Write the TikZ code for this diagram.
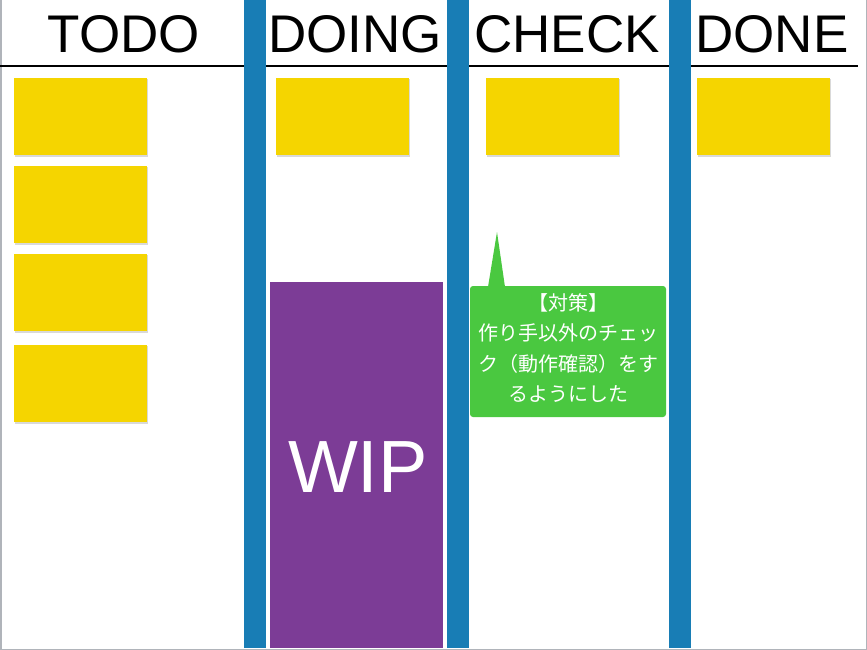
\documentclass[tikz,border=0pt]{standalone}
\usepackage{fontspec}
\newfontfamily\hd{Liberation Sans}
\newfontfamily\cjk{Noto Sans CJK JP}
\definecolor{sticky}{RGB}{245,213,0}
\definecolor{barblue}{RGB}{24,125,181}
\definecolor{wippurple}{RGB}{124,60,150}
\definecolor{callgreen}{RGB}{74,200,64}
\definecolor{frame}{RGB}{176,180,186}
\begin{document}
\begin{tikzpicture}[x=1pt,y=-1pt,
  stickynote/.style={rectangle,fill=sticky,inner sep=0pt,outer sep=0pt,
    minimum width=133pt,minimum height=77pt},
  bar/.style={fill=barblue,draw=none},
  header/.style={font=\hd\fontsize{53}{60}\selectfont,inner sep=0pt,anchor=center}]
\useasboundingbox (0,0) rectangle (867,650);
\fill[white] (0,0) rectangle (867,650);
% frame
\draw[frame,line width=1.5pt] (0.75,0) -- (0.75,649.25) -- (866.25,649.25) -- (866.25,0);
% header line
\draw[black,line width=2pt] (0,66) -- (858,66);
% blue bars
\fill[bar] (244,0) rectangle (266,648);
\fill[bar] (447,0) rectangle (469,648);
\fill[bar] (669,0) rectangle (691,648);
% headers
\node[header] (h1) at (124,34) {TODO};
\node[header] (h2) at (355,34) {DOING};
\node[header] (h3) at (567,34) {CHECK};
\node[header] (h4) at (772,34) {DONE};
% stickies
\foreach \n/\x/\y in {t1/80.5/116.5, t2/80.5/204, t3/80.5/292, t4/80.5/383,
                      d1/342/116.5, c1/552.5/116.5, e1/763.5/116.5}
  {\fill[black,opacity=0.15] (\x-65.5,\y-37.5) rectangle (\x+67.5,\y+40.5);
   \node[stickynote] (\n) at (\x,\y) {};}
% WIP
\node[rectangle,fill=wippurple,inner sep=0pt,minimum width=173pt,minimum height=366pt] (wip) at (356.5,465) {};
\node[font=\hd\fontsize{74}{80}\selectfont,text=white,inner sep=0pt] (wiptext) at (358,467) {WIP};
% callout
\coordinate (tip) at (497,232);
\node[rectangle,rounded corners=3pt,fill=callgreen,inner sep=0pt,
  minimum width=196pt,minimum height=131pt] (call) at (568,351.5) {};
\fill[callgreen] (488,287) -- (tip) -- (505,287) -- cycle;
\node[align=center,text=white,inner sep=0pt,font=\cjk\fontsize{20}{30.5}\selectfont] (calltext) at (568,348)
  {【対策】\\作り手以外のチェッ\\ク（動作確認）をす\\るようにした};
\end{tikzpicture}
\end{document}
